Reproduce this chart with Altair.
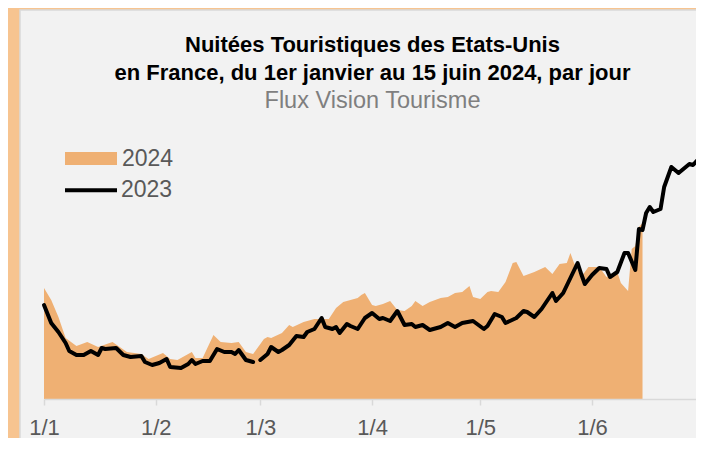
import altair as alt
import pandas as pd

FONT = "Liberation Sans"
ORANGE_BG = "#F7C490"
PANEL = "#F2F2F2"
AREA_COLOR = "#EFB073"
LINE_COLOR = "#000000"

# Day offsets from 1 Jan 2024 (2023 values aligned on the same calendar day; no 29 Feb in 2023)
days_2024 = [0, 2, 4, 6, 9, 12, 15, 19, 21, 23, 27, 29, 33, 35, 37, 41, 42, 44, 47, 49,
             52, 54, 56, 58, 61, 62, 63, 66, 68, 69, 72, 75, 79, 81, 83, 85, 87, 88, 89, 91,
             92, 94, 96, 98, 100, 102, 103, 105, 107, 110, 112, 114, 116, 118, 119, 121, 123, 124, 126, 128,
             130, 131, 133, 136, 139, 141, 143, 145, 146, 147, 149, 151, 154, 156, 159, 160, 162, 163, 164, 165,
             166]
vals_2024 = [111, 99, 82, 61, 53, 57, 52, 57, 52, 47, 45, 40, 46, 40, 39, 47, 41, 41, 64, 57,
             56, 57, 47, 45, 60, 62, 61, 66, 74, 72, 77, 80, 80, 91, 97, 99, 101, 104, 106, 94,
             93, 95, 98, 89, 88, 93, 98, 93, 97, 101, 102, 106, 107, 113, 102, 100, 107, 108, 107, 117,
             136, 137, 123, 127, 132, 125, 135, 136, 146, 136, 122, 132, 132, 122, 127, 116, 108, 150, 153, 172,
             176]

days_2023 = [0, 2, 4, 6, 7, 9, 11, 13, 15, 16, 17, 20, 22, 24, 27, 28, 30, 32, 34, 35,
             38, 40, 41, 42, 44, 46, 48, 50, 52, 53, 54, 56, 58,
             60, 62, 63, 65, 66, 68, 70, 72, 73, 75, 77, 78, 80, 81, 82, 84, 85, 87,
             89, 91, 93, 94, 96, 98, 100, 102, 103, 105, 107, 110, 112, 114, 116, 119, 122, 123,
             125, 127, 128, 131, 133, 134, 136, 138, 141, 142, 144, 146, 148, 149, 150, 152, 154, 156,
             157, 159, 161, 162, 164, 165, 166, 167, 168, 169, 171, 172, 174, 176, 179, 180, 181]
vals_2023 = [94, 76, 67, 56, 48, 44, 44, 48, 44, 51, 50, 51, 44, 42, 43, 37, 34, 36, 40, 32,
             31, 35, 39, 35, 38, 38, 50, 47, 47, 45, 49, 39, 37,
             39, 45, 52, 47, 49, 54, 63, 62, 67, 70, 81, 72, 70, 72, 66, 75, 73, 70,
             81, 86, 80, 81, 78, 88, 74, 75, 72, 74, 69, 72, 76, 72, 76, 78, 70, 73,
             85, 82, 76, 81, 88, 87, 82, 90, 106, 98, 106, 121, 136, 125, 115, 124, 131, 130,
             122, 127, 146, 146, 129, 170, 169, 186, 192, 187, 190, 212, 232, 226, 235, 234, 238]

month_ticks = [1, 2, 3, 4, 5, 6]

title_lines = ["Nuitées Touristiques des Etats-Unis",
               "en France, du 1er janvier au 15 juin 2024, par jour"]
subtitle_text = "Flux Vision Tourisme"

start = pd.Timestamp("2024-01-01")
df24 = pd.DataFrame({
    "date": start + pd.to_timedelta(days_2024, unit="D"),
    "value": vals_2024,
    "serie": "2024",
})
df23 = pd.DataFrame({
    "date": start + pd.to_timedelta(days_2023, unit="D"),
    "value": vals_2023,
    "serie": "2023",
    "seg": [0 if d < 59 else 1 for d in days_2023],
})

x_scale = alt.Scale(
    domain=[alt.DateTime(year=2024, month=1, date=1),
            alt.DateTime(year=2024, month=6, date=29, hours=20)],
    nice=False,
)
y_scale = alt.Scale(domain=[0, 260], nice=False, zero=True)

x_axis = alt.Axis(
    values=[alt.DateTime(year=2024, month=m, date=1) for m in month_ticks],
    format="%-d/%-m",
    title=None,
    grid=False,
    domainColor="#D9D9D9",
    domainWidth=1.5,
    tickColor="#D9D9D9",
    tickWidth=1.5,
    tickSize=6,
    labelFont=FONT,
    labelFontSize=22,
    labelColor="#595959",
    labelPadding=12,
    labelFlush=False,
    labelOverlap=False,
    zindex=1,
)

panel = alt.Chart(pd.DataFrame({"p": [0]})).mark_rect(
    fill=PANEL, stroke="#D9D9D9", strokeWidth=1.5
).encode(
    x=alt.value(-24), x2=alt.value(720), y=alt.value(-129), y2=alt.value(400)
)

area = alt.Chart(df24).mark_area(interpolate="linear").encode(
    x=alt.X("date:T", scale=x_scale, axis=x_axis),
    y=alt.Y("value:Q", scale=y_scale, axis=None),
    fill=alt.Fill(
        "serie:N",
        scale=alt.Scale(domain=["2024"], range=[AREA_COLOR]),
        legend=alt.Legend(
            title=None, orient="none", legendX=21, legendY=-6.5,
            symbolType="M-1,-0.25H1V0.25H-1Z", symbolSize=2704,
            symbolStrokeWidth=0, symbolOpacity=1,
            labelFont=FONT, labelFontSize=23, labelColor="#595959",
            labelOffset=5, padding=0, zindex=1,
        ),
    ),
)

line = alt.Chart(df23).mark_line(
    strokeWidth=4, strokeCap="round", strokeJoin="round"
).encode(
    x=alt.X("date:T"),
    y=alt.Y("value:Q"),
    detail="seg:N",
    stroke=alt.Stroke(
        "serie:N",
        scale=alt.Scale(domain=["2023"], range=[LINE_COLOR]),
        legend=alt.Legend(
            title=None, orient="none", legendX=19, legendY=23.3,
            symbolType="stroke", symbolSize=2704, symbolStrokeWidth=4,
            labelFont=FONT, labelFontSize=23, labelColor="#595959",
            labelOffset=2, padding=0, zindex=1,
        ),
    ),
)

chart = alt.layer(panel, area, line).properties(
    width=652,
    height=260,
    padding={"left": 36, "top": 131, "right": 0, "bottom": 39},
    autosize=alt.AutoSizeParams(type="none"),
    background=ORANGE_BG,
    title=alt.TitleParams(
        text=title_lines,
        subtitle=[subtitle_text],
        font=FONT, fontSize=22, fontWeight="bold", color="#000000",
        lineHeight=27.7,
        subtitleFont=FONT, subtitleFontSize=23.5, subtitleColor="#7F7F7F",
        subtitlePadding=4,
        anchor="middle", offset=-104, dx=2.5, zindex=1,
    ),
).configure_view(stroke=None)

chart.save("out.html", embed_options={"renderer": "svg", "actions": False})
